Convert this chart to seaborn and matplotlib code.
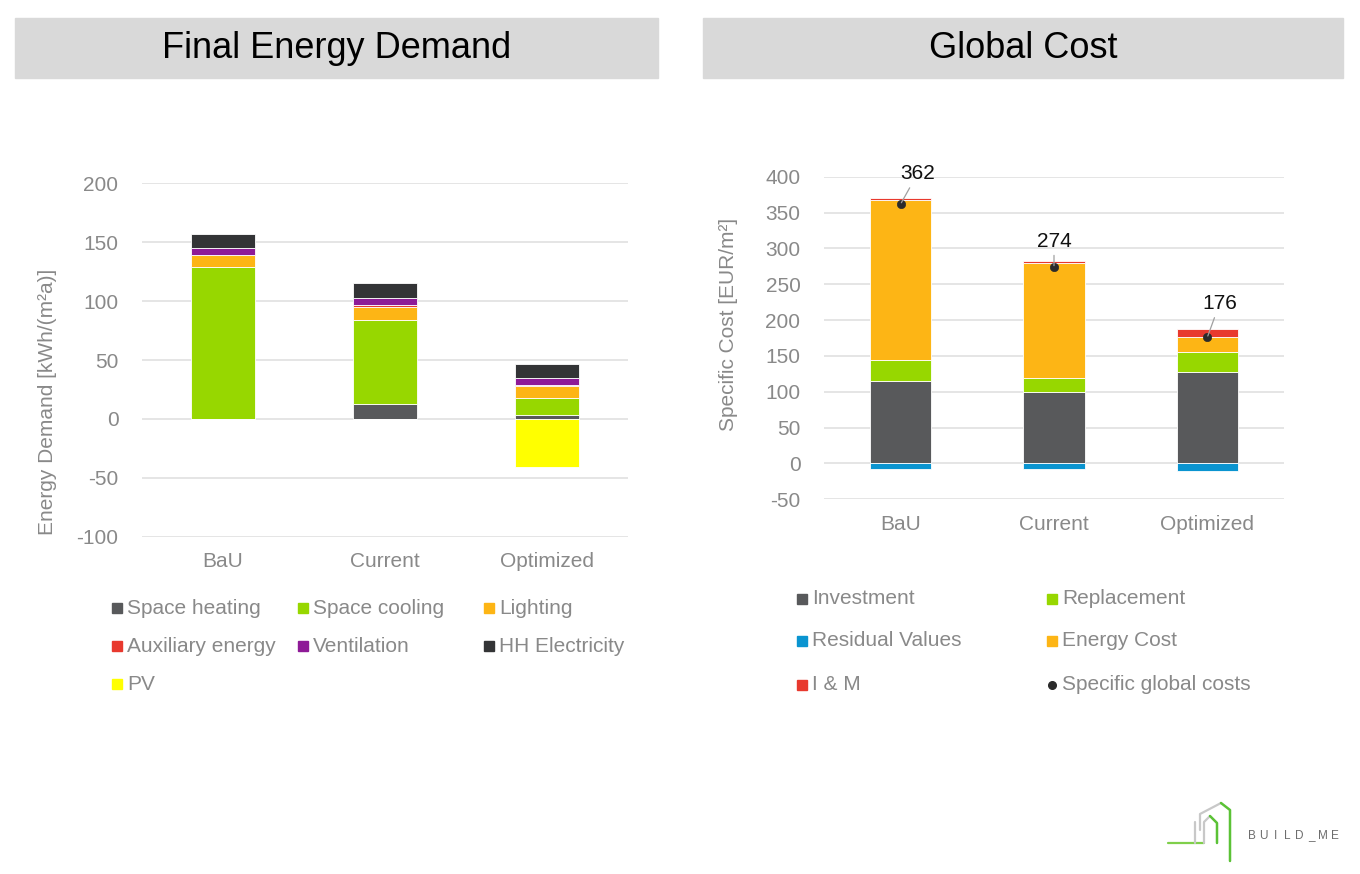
import numpy as np
import matplotlib
matplotlib.use("Agg")
import matplotlib.pyplot as plt
from matplotlib.patches import Rectangle
from matplotlib.lines import Line2D
import seaborn as sns

# --- data -------------------------------------------------------------
scenarios = ["BaU", "Current", "Optimized"]

# final energy demand [kWh/(m2a)]
space_heating = [0, 13, 3]
space_cooling = [129, 71, 14.5]
lighting = [10, 11, 10.5]
auxiliary_energy = [0.3, 2, 0.5]
ventilation = [6, 6, 6.5]
hh_electricity = [12, 12, 12]
pv = [0, 0, -41]

# global cost [EUR/m2]
investment = [115, 99, 128]
replacement = [30, 20, 27]
energy_cost = [222, 160, 21]
i_and_m = [3, 3, 11]
residual_values = [-8, -8, -11]
global_costs = [362, 274, 176]

energy_labels = ["Space heating", "Space cooling", "Lighting",
                 "Auxiliary energy", "Ventilation", "HH Electricity", "PV"]
cost_labels = ["Investment", "Replacement", "Residual Values",
               "Energy Cost", "I & M", "Specific global costs"]

# --- colours ----------------------------------------------------------
c_dark = "#58595b"
c_green = "#97d700"
c_orange = "#fdb515"
c_red = "#e8392e"
c_purple = "#8e1a97"
c_black = "#333436"
c_yellow = "#ffff00"
c_blue = "#0a94d0"
c_dot = "#2b2b2b"
c_text = "#898989"

sns.set_theme(style="white")
plt.rcParams["font.family"] = ["Liberation Sans", "DejaVu Sans"]
plt.rcParams["axes.unicode_minus"] = False

FS = 15  # general text size

W, H = 1360, 874
fig = plt.figure(figsize=(W / 100, H / 100), dpi=100)
fig.patch.set_facecolor("white")


def fx(px):
    return px / W


def fy(py):
    return 1 - py / H


def stacked(ax, layers, colors):
    bottom = np.zeros(len(scenarios))
    for vals, col in zip(layers, colors):
        sns.barplot(x=scenarios, y=vals, bottom=bottom, color=col, width=0.4,
                    saturation=1, errorbar=None, ax=ax,
                    edgecolor="white", linewidth=0.6, zorder=3)
        bottom = bottom + np.array(vals)


def style_axis(ax, ticks):
    ax.set_xlim(-0.5, 2.5)
    ax.set_ylim(ticks[0], ticks[-1])
    ax.set_yticks(ticks)
    ax.yaxis.grid(True, color="#e3e3e3", lw=1.3, zorder=0)
    ax.set_axisbelow(True)
    for s in ax.spines.values():
        s.set_visible(False)
    ax.tick_params(axis="y", length=0, pad=17, labelsize=FS, labelcolor=c_text)
    ax.tick_params(axis="x", length=0, pad=11, labelsize=FS, labelcolor=c_text)
    ax.set_xlabel("")
    ax.set_ylabel("")


def title_box(x0, x1, text):
    fig.add_artist(Rectangle((fx(x0), fy(78)), fx(x1 - x0), 60 / H,
                             transform=fig.transFigure, color="#d9d9d9", zorder=0))
    fig.text(fx((x0 + x1) / 2), fy(48), text, ha="center", va="center",
             fontsize=26, color="black")


def legend_item(x, y, label, color, marker="s"):
    if marker == "s":
        fig.add_artist(Rectangle((fx(x), fy(y + 5)), 10 / W, 10 / H,
                                 transform=fig.transFigure, color=color))
    else:
        fig.add_artist(Line2D([fx(x + 5)], [fy(y)], marker="o", markersize=5.5,
                              color=color, transform=fig.transFigure))
    fig.text(fx(x + 15), fy(y), label, ha="left", va="center",
             fontsize=FS, color=c_text)


# --- left: final energy demand ----------------------------------------
title_box(15, 658, "Final Energy Demand")
ax1 = fig.add_axes([fx(142), fy(536.7), fx(486), 353.4 / H])
stacked(ax1, [space_heating, space_cooling, lighting, auxiliary_energy,
              ventilation, hh_electricity],
        [c_dark, c_green, c_orange, c_red, c_purple, c_black])
sns.barplot(x=scenarios, y=pv, color=c_yellow, width=0.4, saturation=1,
            errorbar=None, ax=ax1, edgecolor="white", linewidth=0.6, zorder=3)
style_axis(ax1, list(range(-100, 201, 50)))
fig.text(fx(48), fy(402), "Energy Demand [kWh/(m²a)]", rotation=90,
         ha="center", va="center", fontsize=FS, color=c_text)

energy_colors = [c_dark, c_green, c_orange, c_red, c_purple, c_black, c_yellow]
for i, (lab, col) in enumerate(zip(energy_labels, energy_colors)):
    legend_item([112, 298, 484][i % 3], 608 + 38 * (i // 3), lab, col)

# --- right: global cost ------------------------------------------------
title_box(703, 1343, "Global Cost")
ax2 = fig.add_axes([fx(824), fy(499.3), fx(460), 322.6 / H])
stacked(ax2, [investment, replacement, energy_cost, i_and_m],
        [c_dark, c_green, c_orange, c_red])
sns.barplot(x=scenarios, y=residual_values, color=c_blue, width=0.4,
            saturation=1, errorbar=None, ax=ax2, edgecolor="white",
            linewidth=0.6, zorder=3)
sns.scatterplot(x=np.arange(len(scenarios)), y=global_costs, color=c_dot,
                s=36, edgecolor=c_dot, ax=ax2, zorder=5)
offsets = [(0.11, 42), (0.0, 36), (0.08, 47)]
for i, (v, (dx, dy)) in enumerate(zip(global_costs, offsets)):
    ax2.annotate(str(v), xy=(i, v), xytext=(i + dx, v + dy),
                 ha="center", va="center", fontsize=FS, color="#111111",
                 annotation_clip=False, zorder=6,
                 arrowprops=dict(arrowstyle="-", color="#a0a0a0", lw=0.9,
                                 shrinkA=1, shrinkB=1))
style_axis(ax2, list(range(-50, 401, 50)))
fig.text(fx(728), fy(324), "Specific Cost [EUR/m²]", rotation=90,
         ha="center", va="center", fontsize=FS, color=c_text)

cost_colors = [c_dark, c_green, c_blue, c_orange, c_red, c_dot]
for i, (lab, col) in enumerate(zip(cost_labels, cost_colors)):
    legend_item([797, 1047][i % 2], [599, 641, 685][i // 2], lab, col,
                marker="o" if i == 5 else "s")

# --- logo ---------------------------------------------------------------
logo_lines = [
    ([1168, 1204], [843, 843], "#7fcf4a", 1.6),
    ([1195, 1195], [843, 822], "#c8c8c8", 1.6),
    ([1204, 1204, 1210], [843, 822, 816], "#c8c8c8", 1.6),
    ([1210, 1217, 1217], [816, 823, 843], "#5bc236", 1.8),
    ([1200, 1200, 1221], [830, 814, 803], "#c8c8c8", 1.6),
    ([1221, 1230, 1230], [803, 810, 861], "#5bc236", 1.8),
]
for xs, ys, col, lw in logo_lines:
    fig.add_artist(Line2D([fx(x) for x in xs], [fy(y) for y in ys], color=col,
                          lw=lw, transform=fig.transFigure))
for k, ch in enumerate("BUILD_ME"):
    fig.text(fx(1252 + 11.8 * k), fy(836), ch, ha="center", va="center",
             fontsize=8.5, color="#6d6d6d")

fig.savefig("out.png", dpi=100, facecolor="white")
